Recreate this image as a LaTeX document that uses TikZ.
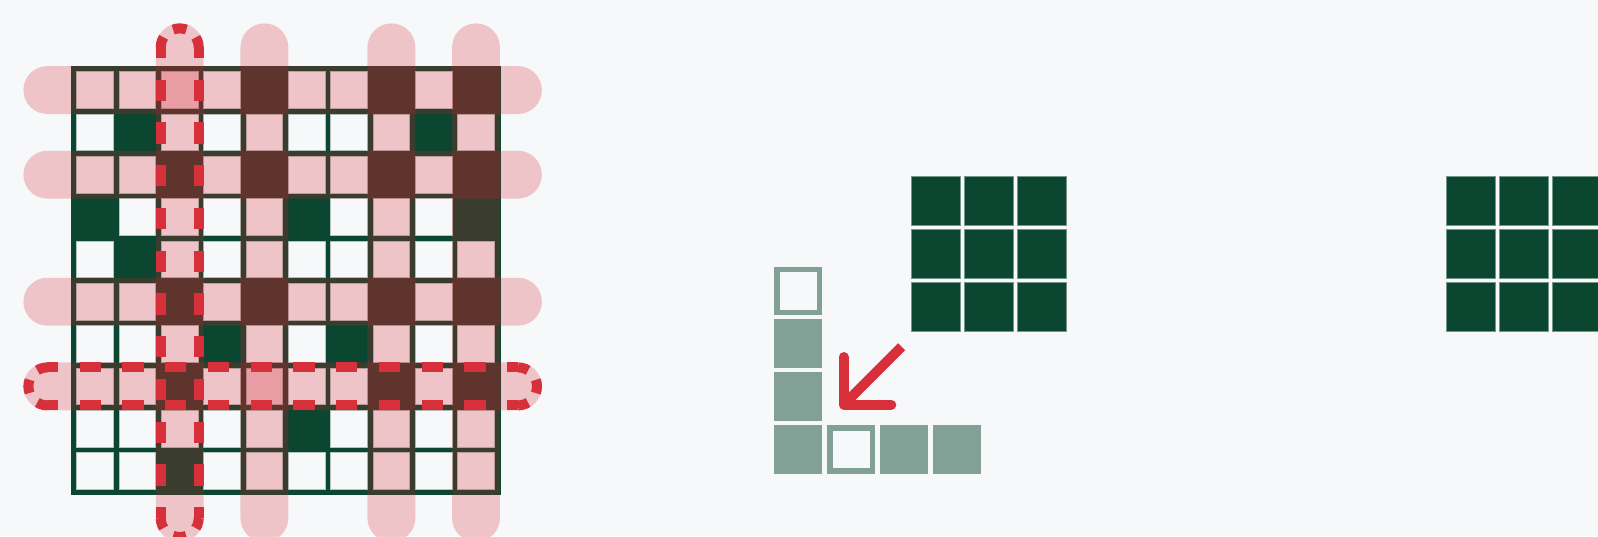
\documentclass[tikz,border=0pt]{standalone}
\definecolor{bg}{HTML}{F7F8FA}
\definecolor{dg}{HTML}{0B4630}
\definecolor{lg}{HTML}{82A095}
\definecolor{pk}{RGB}{213,30,43}
\definecolor{rd}{HTML}{D7303A}
\tikzset{
  cellzero/.style={fill=bg, draw=dg!30!bg, line width=0.4pt},
  band/.style={fill=pk, fill opacity=0.234},
  dsh/.style={draw=rd, line width=5pt, line cap=butt},
  straightdash/.style={dsh, dash pattern=on 10.65pt off 10.735pt, dash phase=5.325pt},
  capdash/.style={dsh, dash pattern=on 5.325pt off 6.225pt on 6.75pt off 6.225pt on 5.325pt off 25pt},
  darkcell/.style={fill=dg, draw=dg!55!bg, line width=0.4pt},
  lightcell/.style={fill=lg},
  arrowline/.style={draw=rd, line width=5pt}
}
\begin{document}
\begin{tikzpicture}[x=0.5pt,y=-0.5pt]
\fill[bg] (0,0) rectangle (1598,536);
\useasboundingbox (0,0) rectangle (1598,536);
% ---------- left matrix ----------
\fill[dg] (70.7,65.7) rectangle (500.5,495.4);
\foreach \row [count=\r from 0] in {
  {0,0,0,0,1,0,0,1,0,1},
  {0,1,0,0,0,0,0,0,1,0},
  {0,0,1,0,1,0,0,1,0,1},
  {1,0,0,0,0,1,0,0,0,1},
  {0,1,0,0,0,0,0,0,0,0},
  {0,0,1,0,1,0,0,1,0,1},
  {0,0,0,1,0,0,1,0,0,0},
  {0,0,1,0,0,0,0,1,0,1},
  {0,0,0,0,0,1,0,0,0,0},
  {0,0,1,0,0,0,0,0,0,0}} {
  \foreach \v [count=\c from 0] in \row {
    \ifnum\v=0
      \path[cellzero] ({76.7+42.33*\c},{71.7+42.33*\r}) rectangle ++(36.7,36.7);
    \fi
  }
}
% row bands (rows 1,3,6,8)
\foreach \yy in {90.05,174.7,301.7,386.4}{
  \fill[band, rounded corners=11.975pt] (23.4,{\yy-23.95}) rectangle (541.9,{\yy+23.95});
}
% column bands (columns 3,5,8,10)
\foreach \xx in {179.7,264.4,391.4,476.0}{
  \fill[band, rounded corners=11.975pt] ({\xx-23.95},23.4) rectangle ({\xx+23.95},541.9);
}
% dashed outline of row 8
\draw[straightdash] (47.4,367.4) -- (518,367.4);
\draw[straightdash] (47.4,405.4) -- (518,405.4);
\draw[capdash] (518,367.4) arc[start angle=270,end angle=450,radius=19];
\draw[capdash] (47.4,405.4) arc[start angle=90,end angle=270,radius=19];
% dashed outline of column 3
\draw[straightdash] (160.7,47.4) -- (160.7,518);
\draw[straightdash] (198.7,47.4) -- (198.7,518);
\draw[capdash] (160.7,47.4) arc[start angle=180,end angle=360,radius=19];
\draw[capdash] (198.7,518) arc[start angle=0,end angle=180,radius=19];
% ---------- middle and right 3x3 ----------
\foreach \i in {0,1,2}{
  \foreach \j in {0,1,2}{
    \path[darkcell] ({911.7+53*\i},{176+53.2*\j}) rectangle ++(48.8,49.2);
    \path[darkcell] ({1446.3+53*\i},{176+53.2*\j}) rectangle ++(48.8,49.2);
  }
}
% ---------- L shape ----------
\foreach \k in {1,2,3}{
  \fill[lightcell] (774.3,{266.5+52.95*\k}) rectangle ++(48,48.7);
}
\foreach \k in {2,3}{
  \fill[lightcell] ({774.3+53*\k},425.3) rectangle ++(48,48.7);
}
\fill[lightcell] (774.3,266.5) rectangle ++(48,48.7);
\fill[bg] (780,272.2) rectangle ++(36.6,37.3);
\fill[lightcell] (827.3,425.3) rectangle ++(48,48.7);
\fill[bg] (833,431) rectangle ++(36.6,37.3);
% ---------- arrow ----------
\coordinate (atail) at (901.6,346.7);
\coordinate (ac) at (843.6,404.7);
\coordinate (aup) at (843.6,357);
\coordinate (aright) at (891.3,404.7);
\draw[arrowline, line cap=butt] (atail) -- (ac);
\draw[arrowline, line cap=round, line join=round] (aup) -- (ac) -- (aright);
\end{tikzpicture}
\end{document}
